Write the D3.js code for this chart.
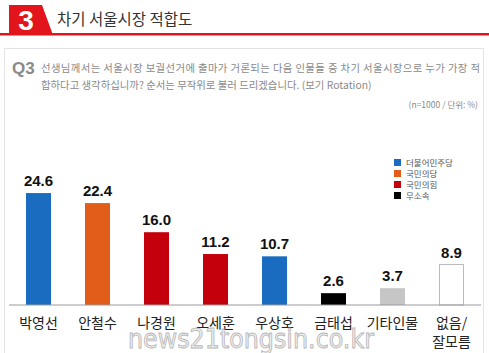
<!DOCTYPE html>
<html>
<head>
<meta charset="utf-8">
<script src="https://cdn.jsdelivr.net/npm/d3@7"></script>
<style>
  body { margin: 0; background: #fff; }
  svg { display: block; font-family: "Noto Sans CJK KR", "Noto Sans", sans-serif; }
</style>
</head>
<body>
<svg width="489" height="353"></svg>
<script>
const names = ['박영선', '안철수', '나경원', '오세훈', '우상호', '금태섭', '기타인물', '없음/잘모름']
const values = [24.6, 22.4, 16.0, 11.2, 10.7, 2.6, 3.7, 8.9]
const parties = ['민주', '국민의당', '국민의힘', '국민의힘', '민주', '무소속', '기타', '없음']
const legendNames = ['더불어민주당', '국민의당', '국민의힘', '무소속']
const partyColor = { '민주': '#1a6cc0', '국민의당': '#e35d1a', '국민의힘': '#c4000c', '무소속': '#000', '기타': '#c6c6c6', '없음': '#fff' }

const svg = d3.select('svg')

// header
svg.append('rect').attr('x', 0).attr('y', 33).attr('width', 489).attr('height', 2.5).attr('fill', '#e3151c')
svg.append('path').attr('d', 'M9,5 L42,5 L53,35 L0,35 L0,33 L9,33 Z').attr('fill', '#e3151c')
svg.append('text').attr('x', 26).attr('y', 30).attr('text-anchor', 'middle')
   .attr('fill', '#fff').attr('font-size', 28).attr('font-weight', 'bold')
   .attr('font-family', 'Arial, "Liberation Sans", sans-serif').text('3')
svg.append('text').attr('x', 57).attr('y', 25).attr('fill', '#333').attr('font-size', 15.5)
   .text('차기 서울시장 적합도')

// panel
svg.append('rect').attr('x', 4.5).attr('y', 48.5).attr('width', 479).attr('height', 320)
   .attr('fill', '#fff').attr('stroke', '#e4e4e4')

svg.append('text').attr('x', 12).attr('y', 74).attr('fill', '#8a8a8a')
   .attr('font-size', 17).attr('font-weight', 'bold')
   .attr('font-family', 'Arial, "Liberation Sans", sans-serif').text('Q3')
svg.append('text').attr('x', 41).attr('y', 72).attr('fill', '#8a8a8a').attr('font-size', 10.4)
   .attr('textLength', 439).attr('lengthAdjust', 'spacing')
   .text('선생님께서는 서울시장 보궐선거에 출마가 거론되는 다음 인물들 중 차기 서울시장으로 누가 가장 적')
svg.append('text').attr('x', 41).attr('y', 89).attr('fill', '#8a8a8a').attr('font-size', 10.4)
   .text('합하다고 생각하십니까? 순서는 무작위로 불러 드리겠습니다. (보기 Rotation)')
svg.append('text').attr('x', 478).attr('y', 108).attr('text-anchor', 'end')
   .attr('fill', '#8a8a8a').attr('font-size', 8.5).text('(n=1000 / 단위: %)')

// chart
const x = d3.scaleBand().domain(names).range([9, 481]).paddingInner(0.576).paddingOuter(0.288)
const y = d3.scaleLinear().domain([0, 30]).range([305, 305 - 30 * 4.55])

const graph = svg.append('g')

graph.selectAll('rect.bar').data(names).enter()
  .append('rect')
  .attr('class', 'bar')
  .attr('x', (d, i) => x(d) + (parties[i] === '없음' ? 0.5 : 0))
  .attr('y', (d, i) => y(values[i]))
  .attr('width', (d, i) => x.bandwidth() - (parties[i] === '없음' ? 1 : 0))
  .attr('height', (d, i) => y(0) - y(values[i]))
  .attr('fill', (d, i) => partyColor[parties[i]])
  .attr('stroke', (d, i) => parties[i] === '없음' ? '#bbb' : 'none')

graph.selectAll('text.val').data(values).enter()
  .append('text')
  .attr('class', 'val')
  .attr('x', (d, i) => x(names[i]) + x.bandwidth() / 2)
  .attr('y', d => y(d) - 7)
  .attr('text-anchor', 'middle')
  .attr('font-size', 15).attr('font-weight', 'bold').attr('fill', '#111')
  .attr('font-family', 'Arial, "Liberation Sans", sans-serif')
  .text(d => d.toFixed(1))

const xAxis = d3.axisBottom(x).tickSize(0).tickPadding(0)
const xAxisGroup = graph.append('g').attr('transform', 'translate(0,305)').call(xAxis)
xAxisGroup.select('.domain').remove()
xAxisGroup.append('line').attr('x1', 9).attr('x2', 481).attr('stroke', '#999').attr('stroke-width', 1.2)
xAxisGroup.selectAll('.tick text').each(function (d) {
  const t = d3.select(this).text(null)
    .attr('font-size', 14).attr('fill', '#222')
    .attr('font-family', '"Noto Sans CJK KR", sans-serif').attr('y', 23).attr('dy', 0)
  const parts = d.split('/')
  parts.forEach((p, k) => {
    t.append('tspan').attr('x', 0).attr('dy', k ? 19 : 0).text(k < parts.length - 1 ? p + '/' : p)
  })
})

// legend
const legend = svg.append('g').attr('transform', 'translate(394,159)')
legendNames.forEach((n, i) => {
  const key = ['민주', '국민의당', '국민의힘', '무소속'][i]
  legend.append('rect').attr('x', 0).attr('y', i * 11).attr('width', 7).attr('height', 7).attr('fill', partyColor[key])
  legend.append('text').attr('x', 12).attr('y', i * 11 + 7).attr('font-size', 8.5).attr('fill', '#555').text(n)
})

// watermark
svg.append('text').attr('x', 128).attr('y', 348).attr('font-size', 26)
   .attr('font-family', '"DejaVu Sans", sans-serif')
   .attr('textLength', 246).attr('lengthAdjust', 'spacingAndGlyphs')
   .attr('fill', '#ececec').attr('stroke', '#a0a0a0').attr('stroke-width', 0.9).attr('opacity', 0.75)
   .text('news21tongsin.co.kr')
</script>
</body>
</html>
